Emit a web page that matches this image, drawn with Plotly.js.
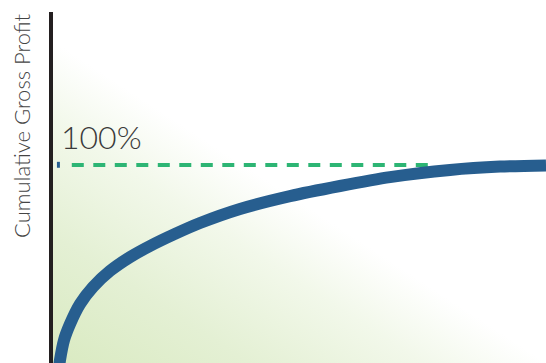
<!DOCTYPE html>
<html>
<head>
<meta charset="utf-8">
<script src="https://cdn.plot.ly/plotly-3.0.1.min.js"></script>
<style>html,body{margin:0;padding:0;background:#fff;}#chart{width:546px;height:363px;}</style>
</head>
<body>
<div id="chart"></div>
<script>
// Data (x: share of items, %, y: cumulative gross profit, %)
var curveX = [1.52, 1.82, 2.63, 3.84, 5.86, 8.48, 11.92, 15.96, 20.00, 25.05, 30.10, 38.18, 48.28, 58.38, 68.48, 80.61, 90.71, 100];
var curveY = [-4.5, 1.5, 11.6, 19.7, 29.8, 38.4, 46.5, 53.5, 59.1, 65.2, 70.7, 77.8, 84.3, 89.4, 93.9, 97.5, 99.2, 99.8];
var targetX = [4.2, 77.8];
var targetY = [100, 100];
var targetLabel = '100%';
var yTitle = 'Cumulative Gross Profit';

var blue = '#275e8f';
var green = '#2db574';

var svg = '<svg xmlns="http://www.w3.org/2000/svg" width="495" height="351" viewBox="0 0 495 351" preserveAspectRatio="none">' +
  '<defs><linearGradient id="g" gradientUnits="userSpaceOnUse" x1="0" y1="351" x2="148" y2="124">' +
  '<stop offset="0" stop-color="#d9eac1"/>' +
  '<stop offset="0.4" stop-color="#e4f0d4"/>' +
  '<stop offset="0.75" stop-color="#f2f8ea"/>' +
  '<stop offset="1" stop-color="#ffffff"/>' +
  '</linearGradient></defs><rect x="0" y="0" width="495" height="351" fill="url(#g)"/></svg>';
var bgSrc = 'data:image/svg+xml;charset=utf-8,' + encodeURIComponent(svg);

var traces = [
  {
    x: targetX, y: targetY, type: 'scatter', mode: 'lines',
    line: {color: green, width: 4, dash: '12px,9.5px'},
    hoverinfo: 'skip', showlegend: false
  },
  {
    x: curveX, y: curveY, type: 'scatter', mode: 'lines',
    line: {color: blue, width: 12, shape: 'spline', smoothing: 0.8},
    hoverinfo: 'skip', showlegend: false
  }
];

var font = {family: 'Lato, "Open Sans", sans-serif', color: '#3a3a3a', weight: 300};

var layout = {
  width: 546, height: 363,
  margin: {l: 51, r: 0, t: 12, b: 0, pad: 0},
  paper_bgcolor: '#ffffff',
  plot_bgcolor: 'rgba(0,0,0,0)',
  showlegend: false,
  xaxis: {range: [0, 100], visible: false, fixedrange: true},
  yaxis: {range: [0, 177.27], visible: false, fixedrange: true},
  images: [{
    source: bgSrc, xref: 'paper', yref: 'paper', x: 0, y: 1,
    sizex: 1, sizey: 1, sizing: 'stretch', xanchor: 'left', yanchor: 'top', layer: 'below'
  }],
  shapes: [
    {type: 'line', xref: 'paper', yref: 'paper', x0: 0, x1: 0, y0: 0, y1: 1,
     line: {color: '#231f20', width: 4}},
    {type: 'rect', xref: 'x', yref: 'y', x0: 1.2, x1: 1.8, y0: 98.6, y1: 101.6,
     fillcolor: blue, line: {width: 0}}
  ],
  annotations: [
    {text: targetLabel, xref: 'paper', yref: 'paper',
     x: (101 - 51) / 495, y: (363 - 136) / 351, xanchor: 'center', yanchor: 'middle',
     showarrow: false, font: Object.assign({}, font, {size: 32})},
    {text: yTitle, xref: 'paper', yref: 'paper', textangle: -90,
     x: (22 - 51) / 495, y: (363 - 126) / 351, xanchor: 'center', yanchor: 'middle',
     showarrow: false, font: Object.assign({}, font, {size: 22, color: '#444444'})}
  ]
};

Plotly.newPlot('chart', traces, layout, {displayModeBar: false, staticPlot: true});
</script>
</body>
</html>
